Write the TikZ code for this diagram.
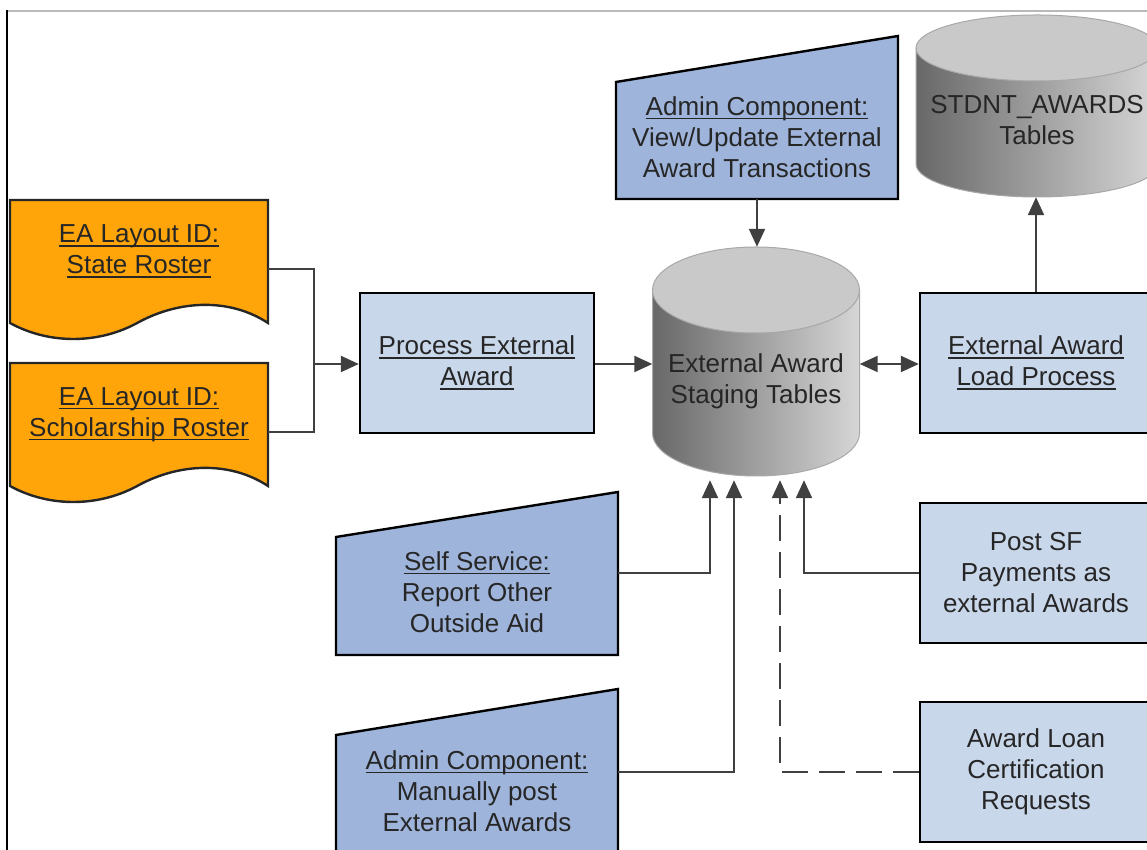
\documentclass[tikz,border=0pt]{standalone}
\usepackage{fontspec}
\setmainfont{Liberation Sans}
\usetikzlibrary{arrows.meta,calc}
\definecolor{docorange}{HTML}{FFA50A}
\definecolor{boxblue}{HTML}{C9D7EB}
\definecolor{trapblue}{HTML}{9FB4DB}
\definecolor{linegrey}{HTML}{404040}
\definecolor{textgrey}{HTML}{262626}
\definecolor{cyldark}{HTML}{686868}
\definecolor{cyllight}{HTML}{D6D6D6}
\definecolor{cyltop}{HTML}{C9C9C9}
\definecolor{cyledge}{HTML}{A8A8A8}
\newcommand\ulx[1]{\setbox0\hbox{#1}\rlap{\rule[-4pt]{\wd0}{1.5pt}}\box0}
\begin{document}
\begin{tikzpicture}[x=1pt,y=1pt,
  font=\fontsize{26}{31}\selectfont,
  txt/.style={text=textgrey, align=center, inner sep=0pt},
  procbox/.style={draw=black, line width=2.4pt, fill=boxblue, minimum width=234pt, minimum height=140pt, txt},
  shapebox/.style={txt, minimum width=282pt},
  conn/.style={draw=linegrey, line width=2.2pt},
  arr/.style={conn, -{Triangle[length=18pt,width=16pt]}},
  darr/.style={conn, {Triangle[length=18pt,width=16pt]}-{Triangle[length=18pt,width=16pt]}},
  outline/.style={draw=black, line width=2.4pt},
  cyl/.style={draw=cyledge, line width=1pt}
]
\useasboundingbox (0,0) rectangle (1147,850);
% frame
\draw[gray!55, line width=1.2pt] (7,839) -- (1147,839);
\draw[black, line width=1.6pt] (7,839.6) -- (7,-2);

% STDNT_AWARDS cylinder
\shade[left color=cyldark, right color=cyllight] (916,802) -- (916,686) arc[start angle=180, end angle=360, x radius=121, y radius=33] -- (1158,802) -- cycle;
\draw[cyl] (916,802) -- (916,686) arc[start angle=180, end angle=360, x radius=121, y radius=33] -- (1158,802);
\filldraw[cyl, fill=cyltop] (1037,802) ellipse[x radius=121, y radius=33];
\node[minimum width=242pt, minimum height=182pt, inner sep=0pt] (stdnt) at (1037,744) {};
\node[txt] (stdnttxt) at ([yshift=-14]stdnt.center) {STDNT\_AWARDS\\Tables};

% staging cylinder
\shade[left color=cyldark, right color=cyllight] (652.5,560) -- (652.5,417) arc[start angle=180, end angle=360, x radius=103.5, y radius=43] -- (859.5,560) -- cycle;
\draw[cyl] (652.5,560) -- (652.5,417) arc[start angle=180, end angle=360, x radius=103.5, y radius=43] -- (859.5,560);
\filldraw[cyl, fill=cyltop] (756,560) ellipse[x radius=103.5, y radius=43];
\node[minimum width=207pt, minimum height=233pt, inner sep=0pt] (stage) at (756,486.5) {};
\node[txt] (stagetxt) at ([yshift=-17.5]stage.center) {External Award\\Staging Tables};

% documents
\filldraw[fill=docorange, draw=black!85, line width=2.4pt] (10,650) -- (268,650) -- (268,527) .. controls (230,552) and (180,550) .. (139,528) .. controls (100,506) and (50,505) .. (10,527) -- cycle;
\filldraw[fill=docorange, draw=black!85, line width=2.4pt] (10,487) -- (268,487) -- (268,364) .. controls (230,389) and (180,387) .. (139,365) .. controls (100,343) and (50,342) .. (10,364) -- cycle;
\node[txt, minimum width=258pt] (doc1) at (139,598.5) {\ulx{EA Layout ID:}\\\ulx{State Roster}};
\node[txt, minimum width=258pt] (doc2) at (139,435.5) {\ulx{EA Layout ID:}\\\ulx{Scholarship Roster}};

% trapezoids
\filldraw[fill=trapblue, outline] (616,651) -- (616,768) -- (898,814) -- (898,651) -- cycle;
\node[shapebox, minimum height=124pt] (adminv) at (757,713) {\ulx{Admin Component:}\\View/Update External\\Award Transactions};
\filldraw[fill=trapblue, outline] (336,195) -- (336,313) -- (618,358) -- (618,195) -- cycle;
\node[shapebox, minimum height=126pt] (self) at (477,258) {\ulx{Self Service:}\\Report Other\\Outside Aid};
\filldraw[fill=trapblue, outline] (336,-10) -- (336,115) -- (618,161) -- (618,-10) -- cycle;
\node[shapebox] (adminm) at (477,59) {\ulx{Admin Component:}\\Manually post\\External Awards};

% process boxes
\node[procbox] (proc) at (477,487) {\ulx{Process External}\\\ulx{Award}};
\node[procbox, minimum width=232pt] (load) at (1036,487) {\ulx{External Award}\\\ulx{Load Process}};
\node[procbox, minimum width=232pt] (post) at (1036,277) {Post SF\\Payments as\\external Awards};
\node[procbox, minimum width=232pt] (loan) at (1036,78) {Award Loan\\Certification\\Requests};

% connectors
\coordinate (jn) at (314,486);
\draw[conn] ([yshift=-17.8]doc1.east) -| (jn);
\draw[conn] ([yshift=-17.5]doc2.east) -| (jn);
\draw[arr] (jn) -- (proc.west |- jn);
\draw[arr] (proc.east |- jn) -- (stage.west |- jn);
\draw[darr] (stage.east |- jn) -- (load.west |- jn);
\draw[arr] (adminv.south) -- (adminv.south |- stage.north);
\draw[arr] (load.north) -- (load.north |- stdnt.south);
\draw[arr] ([yshift=19]self.east) -| ([xshift=-46]stage.south);
\draw[arr] ([yshift=19]adminm.east) -| ([xshift=-22]stage.south);
\draw[arr] (post.west) -| ([xshift=48]stage.south);
\draw[arr, dash pattern=on 26pt off 11pt] (loan.west) -| ([xshift=24]stage.south);
\end{tikzpicture}
\end{document}
